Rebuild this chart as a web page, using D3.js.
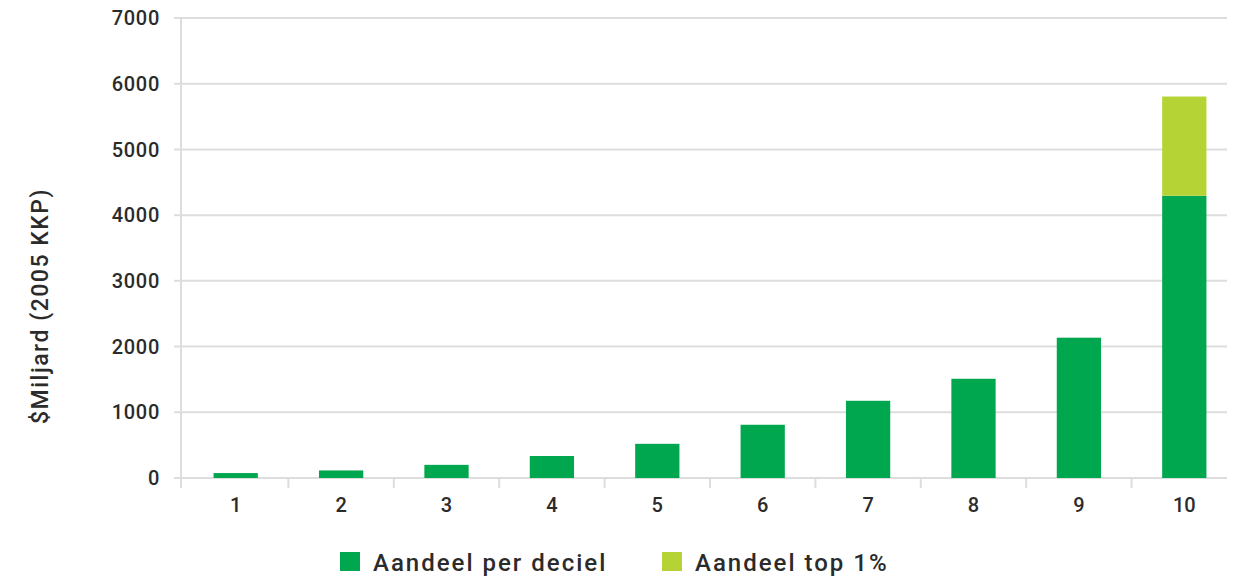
<!DOCTYPE html>
<html>
<head>
<meta charset="utf-8">
<script src="https://cdn.jsdelivr.net/npm/d3@7"></script>
<style>
  body { margin: 0; background: #fff; }
  svg text { font-family: Roboto, "Noto Sans", sans-serif; font-weight: 500; fill: #2b2b2b; }
</style>
</head>
<body>
<svg id="chart" width="1243" height="581"></svg>
<script>
// deciles and values ($ billion, 2005 PPP)
var deciles = ["1", "2", "3", "4", "5", "6", "7", "8", "9", "10"];
var perDecile = [75, 115, 200, 335, 520, 810, 1175, 1510, 2135, 4295];
var top1 = [0, 0, 0, 0, 0, 0, 0, 0, 0, 1510];
var yTicks = [0, 1000, 2000, 3000, 4000, 5000, 6000, 7000];
var seriesNames = ["Aandeel per deciel", "Aandeel top 1%"];
var colors = ["#00a74e", "#b5d334"];

var svg = d3.select("#chart");

var plotLeft = 183, plotRight = 1237, plotTop = 18, plotBottom = 478;

var x = d3.scaleBand().domain(deciles).range([plotLeft, plotRight]).paddingInner(0.58).paddingOuter(0.29);
var y = d3.scaleLinear().domain([0, 7000]).range([plotBottom, plotTop]);

// gridlines
svg.append("g").selectAll("line").data(yTicks).enter()
  .append("line")
  .attr("x1", plotLeft - 9).attr("x2", plotRight - 10)
  .attr("y1", function(d) { return y(d); })
  .attr("y2", function(d) { return y(d); })
  .attr("stroke", "#dddddd").attr("stroke-width", 2);

// y axis line
svg.append("line")
  .attr("x1", plotLeft - 2).attr("x2", plotLeft - 2)
  .attr("y1", plotTop).attr("y2", plotBottom + 10)
  .attr("stroke", "#dddddd").attr("stroke-width", 2);

// category separators below axis
var step = x.step();
svg.append("g").selectAll("line").data(deciles.slice(1)).enter()
  .append("line")
  .attr("x1", function(d) { return x(d) - step * x.paddingInner() / 2; })
  .attr("x2", function(d) { return x(d) - step * x.paddingInner() / 2; })
  .attr("y1", plotBottom).attr("y2", plotBottom + 10)
  .attr("stroke", "#dddddd").attr("stroke-width", 2);

// y tick labels
svg.append("g").selectAll("text").data(yTicks).enter()
  .append("text")
  .attr("x", 160)
  .attr("y", function(d) { return y(d); })
  .attr("dy", "0.36em")
  .attr("text-anchor", "end")
  .attr("font-size", 20)
  .attr("letter-spacing", 0.7)
  .text(function(d) { return d; });

// x tick labels
svg.append("g").selectAll("text").data(deciles).enter()
  .append("text")
  .attr("x", function(d) { return x(d) + x.bandwidth() / 2; })
  .attr("y", 512)
  .attr("text-anchor", "middle")
  .attr("font-size", 20)
  .text(function(d) { return d; });

// stacked bars
var rows = deciles.map(function(d, i) { return {decile: d, a: perDecile[i], b: top1[i]}; });
var stack = d3.stack().keys(["a", "b"])(rows);

svg.append("g").selectAll("g").data(stack).enter()
  .append("g")
  .attr("fill", function(d, i) { return colors[i]; })
  .selectAll("rect").data(function(d) { return d; }).enter()
  .append("rect")
  .attr("x", function(d) { return x(d.data.decile); })
  .attr("width", x.bandwidth())
  .attr("y", function(d) { return y(d[1]); })
  .attr("height", function(d) { return y(d[0]) - y(d[1]); });

// y axis title
svg.append("text")
  .attr("transform", "translate(48,306) rotate(-90)")
  .attr("text-anchor", "middle")
  .attr("font-size", 23)
  .attr("letter-spacing", 1.5)
  .text("$Miljard (2005 KKP)");

// legend
var legendX = [340, 662];
var legend = svg.append("g").selectAll("g").data(seriesNames).enter()
  .append("g")
  .attr("transform", function(d, i) { return "translate(" + legendX[i] + ",552)"; });
legend.append("rect").attr("width", 20).attr("height", 19)
  .attr("fill", function(d, i) { return colors[i]; });
legend.append("text").attr("x", 33).attr("y", 10).attr("dy", "0.36em")
  .attr("font-size", 24)
  .attr("letter-spacing", 2)
  .text(function(d) { return d; });
</script>
</body>
</html>
